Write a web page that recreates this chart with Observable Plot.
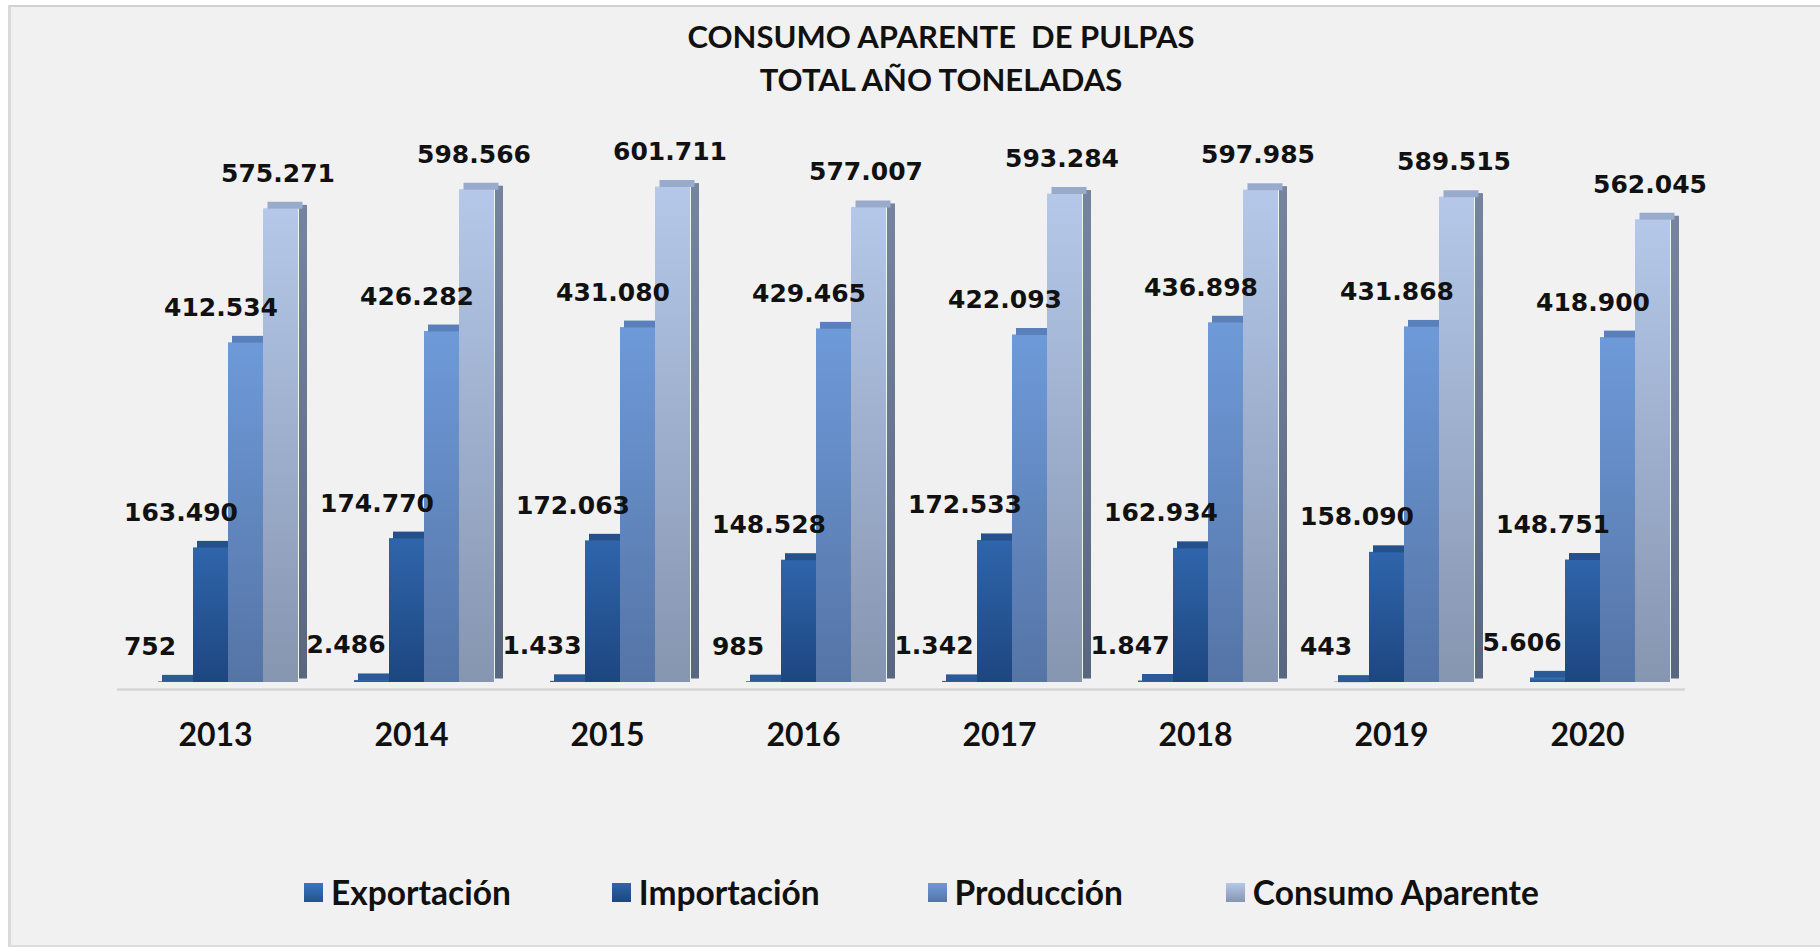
<!DOCTYPE html>
<html>
<head>
<meta charset="utf-8">
<script src="https://cdn.jsdelivr.net/npm/d3@7"></script>
<script src="https://cdn.jsdelivr.net/npm/@observablehq/plot@0.6"></script>
<style>
html, body { margin: 0; padding: 0; background: #ffffff; width: 1820px; height: 948px; overflow: hidden; position: relative; }
#panel { position: absolute; left: 8px; top: 5px; width: 1830px; height: 938px; background: #f1f1f1;
  border-left: 3px solid #d9d9d9; border-top: 2px solid #d2d2d2; border-bottom: 2px solid #dddddd; }
#title { position: absolute; left: 0; top: 15px; width: 1882px; text-align: center; font-family: Lato, "Open Sans", sans-serif;
  font-weight: 700; font-size: 31px; line-height: 43px; color: #111; }
#chart { position: absolute; left: 0; top: 100px; }
#legend { position: absolute; left: 304px; top: 873px; display: flex; align-items: center;
  font-family: Lato, "Open Sans", sans-serif; font-weight: 700; font-size: 33.5px; line-height: 38px; color: #111; }
.item { display: flex; align-items: center; gap: 8px; white-space: nowrap; }
.sw { width: 19px; height: 19px; display: inline-block; }
</style>
</head>
<body>
<div id="panel"></div>
<div id="title">CONSUMO APARENTE&nbsp; DE PULPAS<br>TOTAL AÑO TONELADAS</div>
<div id="chart"></div>
<div id="legend"></div>
<script>
// ---- data ----
const years = [2013, 2014, 2015, 2016, 2017, 2018, 2019, 2020];
const series = ["Exportación", "Importación", "Producción", "Consumo Aparente"];
const exportacion = [752, 2486, 1433, 985, 1342, 1847, 443, 5606];
const importacion = [163490, 174770, 172063, 148528, 172533, 162934, 158090, 148751];
const produccion = [412534, 426282, 431080, 429465, 422093, 436898, 431868, 418900];
const consumo = [575271, 598566, 601711, 577007, 593284, 597985, 589515, 562045];

// ---- styles ----
const gradTop = ["#3a76c1", "#2f65ab", "#6e9ad9", "#b5c8e9"];
const gradBottom = ["#24538e", "#1d4680", "#5574a6", "#8695b0"];
const capColor = ["#2a5a98", "#24508c", "#5a80bb", "#98abcc"];
const labelDx = [-26, -30, -25, -3];
const legendGap = [0, 101, 108, 103];

const cols = [exportacion, importacion, produccion, consumo];
const data = years.flatMap((year, i) =>
  series.map((s, j) => ({year, series: s, idx: j, value: cols[j][i]})));

const locale = d3.formatLocale({decimal: ",", thousands: ".", grouping: [3], currency: ["", ""]});
const fmt = locale.format(",d");
const last = series[series.length - 1];

const chart = Plot.plot({
  width: 1820,
  height: 680,
  marginLeft: 115,
  marginRight: 133,
  marginTop: 88,
  marginBottom: 98,
  style: {background: "transparent", fontFamily: "Lato, 'Open Sans', sans-serif", fontSize: "32px", fontWeight: "bold", color: "#111", overflow: "visible"},
  facet: {data, x: "year"},
  fx: {domain: years, paddingInner: 0, paddingOuter: 0, tickSize: 0, tickPadding: 41, label: null, tickFormat: d => String(d)},
  x: {domain: series, axis: null, paddingInner: 0, paddingOuter: 0.729, align: 0.724},
  y: {domain: [0, 600000], axis: null},
  color: {type: "identity"},
  marks: [
    Plot.ruleY([0], {stroke: "#d6d6d6", strokeWidth: 2.5, dy: 7}),
    Plot.barY(data, {filter: d => d.series === last, x: "series", y: "value", insetLeft: 27, dx: 9, dy: -3.5, fill: "url(#gside)"}),
    Plot.barY(data, {x: "series", y: "value", fill: d => `url(#g${d.idx})`}),
    Plot.tickY(data, {filter: d => d.series !== last, x: "series", y: "value", stroke: d => capColor[d.idx], strokeWidth: 7, dy: -3.5, insetLeft: 4}),
    Plot.tickY(data, {filter: d => d.series === last, x: "series", y: "value", stroke: d => capColor[d.idx], strokeWidth: 7, dy: -3.5, dx: 4.5}),
    ...series.map((s, j) => Plot.text(data, {
      filter: d => d.series === s, x: "series", y: "value", text: d => fmt(d.value),
      dx: labelDx[j], dy: -35, fontFamily: "DejaVu Sans", fontSize: 25, fontWeight: "bold", fill: "#111"
    }))
  ]
});

// gradients
const ns = "http://www.w3.org/2000/svg";
const defs = document.createElementNS(ns, "defs");
function addGrad(id, c1, c2) {
  const g = document.createElementNS(ns, "linearGradient");
  g.setAttribute("id", id);
  g.setAttribute("x1", "0"); g.setAttribute("y1", "0"); g.setAttribute("x2", "0"); g.setAttribute("y2", "1");
  [[0, c1], [1, c2]].forEach(([o, c]) => {
    const st = document.createElementNS(ns, "stop");
    st.setAttribute("offset", o); st.setAttribute("stop-color", c);
    g.appendChild(st);
  });
  defs.appendChild(g);
}
series.forEach((s, j) => addGrad(`g${j}`, gradTop[j], gradBottom[j]));
addGrad("gside", "#76849f", "#586680");
chart.prepend(defs);
document.getElementById("chart").appendChild(chart);

// legend
const legend = document.getElementById("legend");
series.forEach((s, j) => {
  const it = document.createElement("div");
  it.className = "item";
  it.style.marginLeft = legendGap[j] + "px";
  const sw = document.createElement("span");
  sw.className = "sw";
  sw.style.background = `linear-gradient(180deg, ${gradTop[j]}, ${gradBottom[j]})`;
  const t = document.createElement("span");
  t.textContent = s;
  it.appendChild(sw); it.appendChild(t);
  legend.appendChild(it);
});
</script>
</body>
</html>
